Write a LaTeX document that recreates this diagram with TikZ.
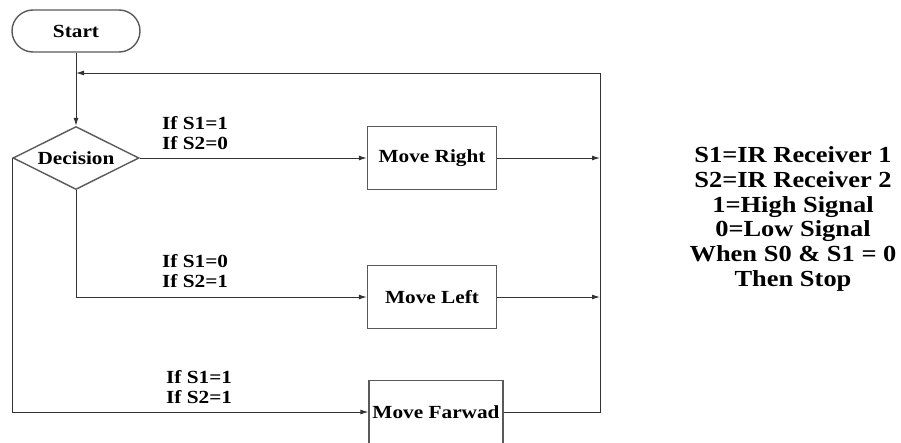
\documentclass[tikz,border=0pt]{standalone}
\usepackage{fontspec}
\setmainfont{Liberation Serif}[FakeStretch=1.15]
\usepackage{tikz}
\usetikzlibrary{arrows.meta,positioning,shapes.geometric}

\begin{document}
\begin{tikzpicture}[
    x=1pt, y=-1pt,
    >={Latex[length=8pt,width=5pt]},
    font=\bfseries\fontsize{18.5}{20}\selectfont,
    terminal/.style={
		rectangle,
		rounded corners=21pt,
		draw=black!65,
		line width=1.4pt,
		minimum width=128pt,
		minimum height=42pt
	},
    decision/.style={
		diamond,
		aspect=2,
		draw=black!65,
		line width=1.4pt,
		inner sep=0pt,
		minimum width=126pt,
		minimum height=63pt
	},
    process/.style={
		rectangle,
		draw=black!65,
		line width=1.4pt,
		minimum width=129pt,
		minimum height=63pt
	},
	cond/.style={
		align=left,
		anchor=west,
		inner sep=0pt
	},
	line/.style={
		draw=black!80,
		line width=1pt
	}
  ]
  \useasboundingbox (0,0) rectangle (901,442);

  % blocks
  \node [terminal] (start) at (76,31) {Start};
  \node [decision] (dec) at (76,158) {Decision};
  \node [process] (right) at (432,158) {Move Right};
  \node [process] (left) at (432,297) {Move Left};
  \node [process] (fwd) at (436,412) {Move Farwad};

  % return bus on the right
  \coordinate (busTop) at (600,73);
  \coordinate (loop) at (76,73);

  % conditions
  \node [cond] (c1) at (162,133) {If S1=1\\If S2=0};
  \node [cond] (c2) at (162,271) {If S1=0\\If S2=1};
  \node [cond] (c3) at (166,387) {If S1=1\\If S2=1};

  % legend
  \node [align=center, inner sep=0pt, font=\bfseries\fontsize{23}{24.75}\selectfont] (legend) at (793,219)
  {S1=IR Receiver 1\\S2=IR Receiver 2\\1=High Signal\\0=Low Signal\\When S0 \& S1 = 0\\Then Stop};

  \draw [line,->] (start) -- (dec);
  \draw [line,->] (dec.east) -- (right);
  \draw [line,->] (dec.south) |- (left);
  \draw [line,->] (dec.west) |- (fwd);
  \draw [line,->] (right.east) -- (right.east -| busTop);
  \draw [line,->] (left.east) -- (left.east -| busTop);
  \draw [line,->] (fwd.east) -| (busTop) -- (loop);

\end{tikzpicture}
\end{document}
